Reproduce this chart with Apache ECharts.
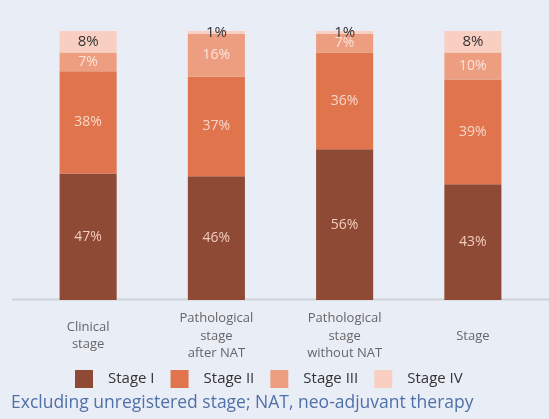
<!DOCTYPE html>
<html><head><meta charset="utf-8">
<script src="https://cdn.jsdelivr.net/npm/echarts@6/dist/echarts.min.js"></script>
<style>html,body{margin:0;padding:0;background:#e9edf6;}#c{width:549px;height:419px;}</style>
</head><body><div id="c"></div>
<script>
const categories = ['Clinical\nstage', 'Pathological\nstage\nafter NAT', 'Pathological\nstage\nwithout NAT', 'Stage'];
const stageI = [47, 46, 56, 43];
const stageII = [38, 37, 36, 39];
const stageIII = [7, 16, 7, 10];
const stageIV = [8, 1, 1, 8];
const seriesNames = ['Stage I', 'Stage II', 'Stage III', 'Stage IV'];
const colors = ['#8e4a34', '#e0744c', '#ee9e80', '#f9cfc2'];
const labelColors = ['#f3cdbf', '#f8d8cb', '#fbe3d9', '#333333'];
const footnote = 'Excluding unregistered stage; NAT, neo-adjuvant therapy';

const FONT = '"Open Sans", Lato, sans-serif';
const data = [stageI, stageII, stageIII, stageIV];
const chart = echarts.init(document.getElementById('c'), null, {renderer: 'canvas'});
chart.setOption({
  backgroundColor: '#e9edf6',
  animation: false,
  textStyle: {fontFamily: FONT},
  grid: {left: 24, right: 12, top: 31, bottom: 119, containLabel: false},
  legend: {
    left: 70, top: 365, itemWidth: 18, itemHeight: 18, itemGap: 16,
    icon: 'rect',
    textStyle: {fontSize: 15, color: '#333', fontFamily: FONT, padding: [0, 0, 0, 10]},
    data: seriesNames
  },
  xAxis: {
    type: 'category', data: categories,
    axisLine: {show: false}, axisTick: {show: false},
    axisLabel: {interval: 0, margin: 36, verticalAlign: 'middle', fontSize: 13, lineHeight: 17.5, color: '#666', fontFamily: FONT}
  },
  yAxis: {type: 'value', min: 0, max: 100, show: false, splitLine: {show: false}},
  graphic: [
    {type: 'line', shape: {x1: 12, y1: 299.5, x2: 549, y2: 299.5}, style: {stroke: '#cfd3da', lineWidth: 2}, z: 0},
    {type: 'text', left: 11, top: 394, style: {text: footnote, fill: '#5070a8', font: '17.5px ' + FONT}}
  ],
  series: data.map((d, i) => ({
    name: seriesNames[i], type: 'bar', stack: 'all', barWidth: '44.5%',
    data: d,
    itemStyle: {color: colors[i]},
    label: {show: true, position: 'inside', formatter: '{c}%', color: labelColors[i], fontSize: i === 3 ? 15 : 14, fontFamily: FONT}
  }))
});
</script></body></html>
